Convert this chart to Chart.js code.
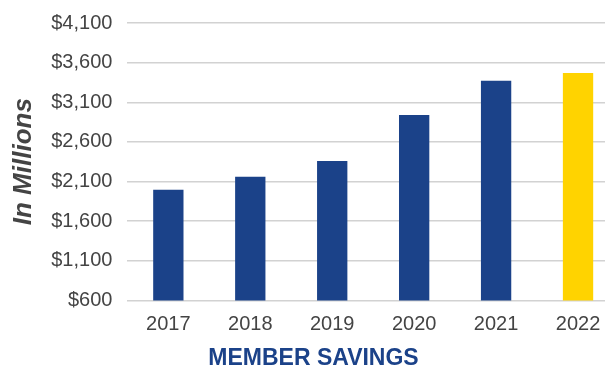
<!DOCTYPE html>
<html>
<head>
<meta charset="utf-8">
<script src="https://cdn.jsdelivr.net/npm/chart.js@4/dist/chart.umd.min.js"></script>
<style>
  html, body { margin: 0; padding: 0; overflow: hidden; background: #fff; }
  #wrap { width: 620px; height: 372px; position: relative; }
</style>
</head>
<body>
<div id="wrap"><canvas id="c"></canvas></div>
<script>
const years = ['2017', '2018', '2019', '2020', '2021', '2022'];
const savings = [1995, 2160, 2360, 2940, 3370, 3470];
const yMin = 600;
const yMax = 4100;
const yStep = 500;

const BLUE = '#1b4289';
const YELLOW = '#ffd300';
const TEXT = '#444444';

new Chart(document.getElementById('c'), {
  type: 'bar',
  data: {
    labels: years,
    datasets: [{
      label: 'Member Savings',
      data: savings,
      backgroundColor: (ctx) => ctx.dataIndex === years.length - 1 ? YELLOW : BLUE,
      barPercentage: 0.37,
      categoryPercentage: 1.0,
      borderWidth: 0
    }]
  },
  options: {
    responsive: true,
    maintainAspectRatio: false,
    animation: false,
    devicePixelRatio: 1,
    layout: { padding: { left: 8, right: 1, top: 23, bottom: 0 } },
    plugins: {
      legend: { display: false },
      tooltip: { enabled: false },
      title: {
        display: true,
        position: 'bottom',
        text: 'MEMBER SAVINGS',
        color: BLUE,
        font: { family: 'Liberation Sans', size: 23, weight: 'bold', lineHeight: 1.2 },
        padding: { top: 4, bottom: 0 }
      }
    },
    scales: {
      x: {
        grid: { display: false, drawTicks: true, tickLength: 8 },
        border: { display: false },
        ticks: {
          color: TEXT,
          padding: 4,
          font: { family: 'Liberation Sans', size: 20 }
        }
      },
      y: {
        min: yMin,
        max: yMax,
        border: { display: false },
        grid: { color: '#d2d2d2', lineWidth: 1.5, drawTicks: true, tickLength: 11, tickColor: 'rgba(0,0,0,0)' },
        ticks: {
          stepSize: yStep,
          color: TEXT,
          padding: 4,
          font: { family: 'Liberation Sans', size: 20 },
          callback: (v) => '$' + Number(v).toLocaleString('en-US')
        },
        title: {
          display: true,
          text: 'In Millions',
          color: TEXT,
          font: { family: 'Liberation Sans', size: 26, weight: 'bold', style: 'italic', lineHeight: 1.2 },
          padding: { top: 0, bottom: 8 }
        }
      }
    }
  }
});
</script>
</body>
</html>
